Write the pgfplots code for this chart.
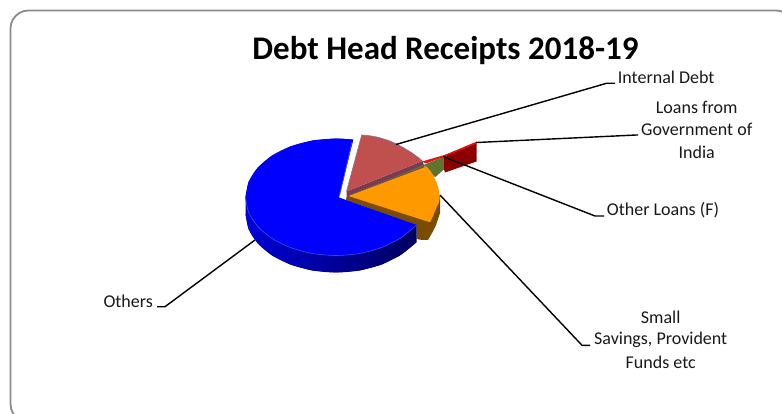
\documentclass[border=0pt]{standalone}
\usepackage{pgfplots}
\pgfplotsset{compat=1.18}
\usepackage{fontspec}
\setmainfont{Carlito}
\definecolor{others}{RGB}{0,0,255}
\definecolor{othersL}{RGB}{0,0,215}
\definecolor{othersR}{RGB}{0,0,95}
\definecolor{othersEdge}{RGB}{50,85,205}
\definecolor{internal}{RGB}{192,80,77}
\definecolor{internalSide}{RGB}{122,58,84}
\definecolor{internalEdge}{RGB}{135,115,150}
\definecolor{govt}{RGB}{139,0,0}
\definecolor{govtTop}{RGB}{225,20,20}
\definecolor{otherloans}{RGB}{95,115,50}
\definecolor{savings}{RGB}{255,153,0}
\definecolor{savingsSide}{RGB}{122,76,0}
\definecolor{frameGrey}{RGB}{140,140,140}
\tikzset{
  slice/.style={draw=none},
  arcfill/.style={draw=none, smooth},
  leader/.style={draw=black, line width=1.4pt, line join=miter},
  lbl/.style={font=\fontsize{18}{20}\selectfont, text=black!90, inner sep=0pt},
}
\begin{document}
\begin{tikzpicture}
\begin{axis}[
  scale only axis, width=782pt, height=414pt,
  xmin=0, xmax=782, ymin=0, ymax=414, y dir=reverse,
  hide axis, clip=true,
]
% white chart area, which also fixes the size of the page
\addplot[slice, fill=white] coordinates {(0,0) (782,0) (782,414) (0,414)};
% rounded chart frame, running past the right and lower page edges
\addplot[draw=frameGrey, line width=1.8pt] coordinates {
  (794,28.5) (792.6,19.5) (788.7,15.8) (785,12.9) (780.7,11.1) (776,10.5)
  (28.5,10.5) (23.8,11.1) (19.5,12.9) (15.8,15.8) (12.9,19.5) (11.1,23.8) (10.5,28.5)
  (10.5,404) (11.1,408.7) (12.9,413) (15.8,416.7) (19.5,419.6) (28.5,422) (776,422)};

% Loans from Government of India: far slice
\addplot[slice, fill=govt] coordinates {(440,157) (476.5,143) (476.5,161.5) (445,172.5)};
\addplot[slice, fill=govtTop] coordinates {(422,161.5) (445,154.8) (476.8,141.5) (476.8,143.5) (445,156.5) (426,163.5)};

% Internal Debt
\addplot[slice, fill=internalSide] coordinates {(346.5,191.5) (422.5,161) (425,168) (346.5,199.5)};
\addplot[slice, fill=internal] coordinates {(346.5,191.5) (361.7,135) (370,135.8) (378.3,137.3) (388,140.3) (396.7,144) (405,148.6) (411.7,152.7) (418,157.3) (422.5,161)};
\addplot[draw=internalEdge, line width=0.6pt] coordinates {(346.5,191.5) (361.7,135) (370,135.8) (378.3,137.3) (388,140.3) (396.7,144) (405,148.6) (411.7,152.7) (418,157.3) (422.5,161)};

% Other Loans (F)
\addplot[slice, fill=otherloans] coordinates {(349,195.5) (443.8,156.7) (443.8,169.5) (435,177.3) (425,166)};

% Small Savings, Provident Funds etc
\addplot[slice, fill=savingsSide] coordinates {(347,196.5) (346,200) (416.7,225) (416.7,239) (422,240) (428,240) (432,233) (436,225) (440,213) (440.2,196) (430,200)};
\addplot[slice, fill=savings] coordinates {(348.5,196) (426.5,166.5) (430.5,171) (433.5,176) (436.5,182.5) (438.5,188.5) (439.5,195) (439.5,200) (438.5,203.5) (436.7,207) (435,211) (433.5,215) (431.5,219) (430,222.3)};

% Others: depth band
\addplot[arcfill, left color=othersL, right color=othersR] coordinates {
  (245.5,214) (248.6,229.15) (257.6,243.25) (272,255.4) (290.75,264.65) (312.6,270.5) (336,272.5)
  (359.4,270.5) (381.25,264.65) (400,255.4) (410.1,247.6) (416.7,242)};
\addplot[slice, left color=othersL, right color=othersR] coordinates {
  (245.5,197) (245.5,214) (248.6,229.15) (257.6,243.25) (272,255.4) (290.75,264.65) (312.6,270.5) (336,272.5)
  (359.4,270.5) (381.25,264.65) (400,255.4) (410.1,247.6) (416.7,242) (416.7,225) (336,197)};

% Others: top face, a fan plus the three curved caps
\addplot[slice, fill=others] coordinates {
  (339,197.5) (353.3,139.6) (336,138.5) (312.6,140.5) (290.75,146.3) (272,155.6) (257.6,167.75) (248.6,181.85)
  (245.5,197) (248.6,212.15) (257.6,226.25) (272,238.4) (290.75,247.65) (312.6,253.5) (336,255.5)
  (359.4,253.5) (381.25,247.65) (400,238.4) (410.1,230.6) (416.7,225)};
\addplot[arcfill, fill=others] coordinates {(353.3,139.6) (336,138.5) (312.6,140.5) (290.75,146.3) (272,155.6) (257.6,167.75) (248.6,181.85) (245.5,197)};
\addplot[arcfill, fill=others] coordinates {(245.5,197) (248.6,212.15) (257.6,226.25) (272,238.4) (290.75,247.65) (312.6,253.5) (336,255.5)};
\addplot[arcfill, fill=others] coordinates {(336,255.5) (359.4,253.5) (381.25,247.65) (400,238.4) (410.1,230.6) (416.7,225)};
% bevel line where the top face meets the band, and along the cut edge
\addplot[smooth, draw=othersEdge, line width=0.6pt] coordinates {(245.5,197) (248.6,212.15) (257.6,226.25) (272,238.4) (290.75,247.65) (312.6,253.5) (336,255.5) (359.4,253.5) (381.25,247.65) (400,238.4) (410.1,230.6) (416.7,225)};
\addplot[draw=othersEdge, line width=0.7pt] coordinates {(352,142) (339.5,195.5)};

% leader lines
\addplot[leader] coordinates {(396,144.5) (606.5,83.3) (615,83.3)};
\addplot[leader] coordinates {(476.7,142.5) (636.5,135) (638,135)};
\addplot[leader] coordinates {(443.5,156.7) (595,216) (604,216)};
\addplot[leader] coordinates {(440,195) (582,345.3) (590,345.3)};
\addplot[leader] coordinates {(255,240) (165,306.7) (157,306.7)};

% title and labels
\node[font=\fontsize{33}{36}\selectfont\bfseries, text=black, inner sep=0pt] at (axis cs:445.5,50.5) {Debt Head Receipts 2018-19};
\node[lbl, anchor=west] at (axis cs:617.7,77.5) {Internal Debt};
\node[lbl] at (axis cs:696.7,107.5) {Loans from};
\node[lbl] at (axis cs:696.7,129.5) {Government of};
\node[lbl] at (axis cs:696.7,152) {India};
\node[lbl, anchor=west] at (axis cs:606.7,210.5) {Other Loans (F)};
\node[lbl] at (axis cs:660.7,317.5) {Small};
\node[lbl] at (axis cs:660.7,340) {Savings, Provident};
\node[lbl] at (axis cs:660.7,362) {Funds etc};
\node[lbl, anchor=west] at (axis cs:103.3,301.5) {Others};
\end{axis}
\end{tikzpicture}
\end{document}
